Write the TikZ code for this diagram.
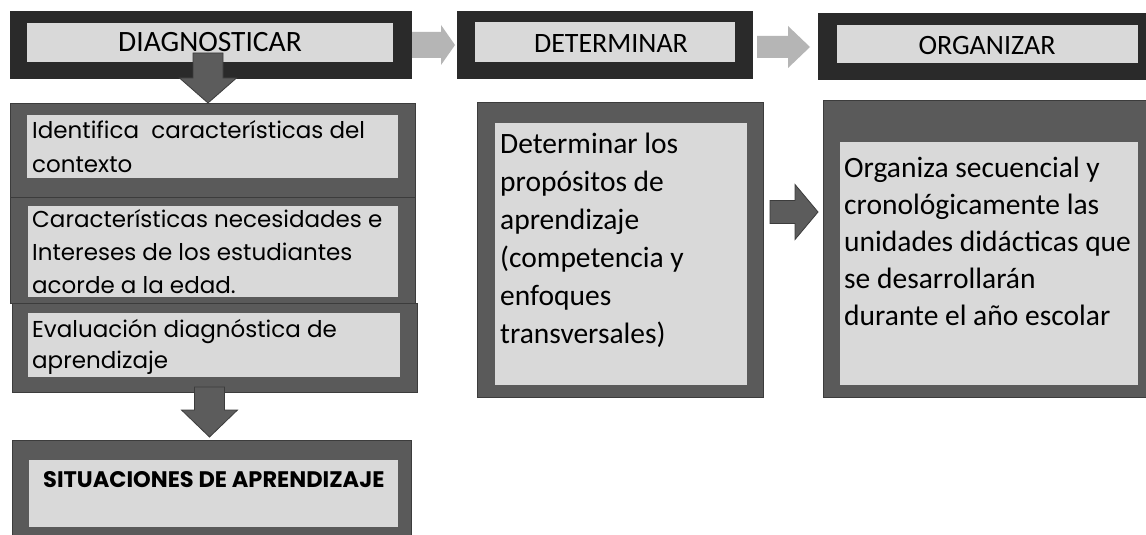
\documentclass[tikz,border=0pt]{standalone}
\usepackage{fontspec}
\usetikzlibrary{calc}
\newfontfamily\calib{Carlito}
\newfontfamily\gothic{Poppins}
\definecolor{topdark}{HTML}{2A2A2A}
\definecolor{lowdark}{HTML}{5A5A5A}
\definecolor{lowedge}{HTML}{3C3C3C}
\definecolor{lightfill}{HTML}{D9D9D9}
\definecolor{garrow}{HTML}{B5B5B5}
\definecolor{darrow}{HTML}{5C5C5C}
\newcommand\mkbox[6]{\node[#6, minimum width={(#4-#2)*1pt}, minimum height={(#5-#3)*1pt}] (#1) at ({(#2+#4)/2},{(#3+#5)/2}) {};}
\tikzset{
  topouter/.style={fill=topdark, draw=none, inner sep=0, outer sep=0},
  lowouter/.style={fill=lowdark, draw=lowedge, line width=1pt, inner sep=0, outer sep=0},
  innerbox/.style={fill=lightfill, draw=none, inner sep=0, outer sep=0},
  gtext/.style={font={\gothic\fontsize{23}{33}\selectfont}, align=left, anchor=base west, inner sep=0},
  gbold/.style={font={\gothic\bfseries\fontsize{22.5}{24}\selectfont}, anchor=base west, inner sep=0},
  ctext/.style={font={\calib\fontsize{29.5}{37.5}\selectfont}, align=left, anchor=base west, inner sep=0},
  ttext/.style={font={\calib\fontsize{28}{30}\selectfont}, anchor=base, inner sep=0},
  lightarrow/.style={fill=garrow, draw=none},
  darkarrow/.style={fill=darrow, draw=lowedge, line width=0.8pt},
}
\begin{document}
\begin{tikzpicture}[x=1pt,y=-1pt]
\useasboundingbox[fill=white] (0,0) rectangle (1146,535);
% top row
\mkbox{diagO}{10}{11}{412}{79}{topouter}
\mkbox{diagI}{27}{23}{393}{62}{innerbox}
\mkbox{detO}{457}{11}{753}{79}{topouter}
\mkbox{detI}{475}{22}{735}{62}{innerbox}
\mkbox{orgO}{818}{13}{1150}{80}{topouter}
\mkbox{orgI}{837}{25}{1138}{63}{innerbox}
% left column
\mkbox{b1O}{10}{103}{415}{197}{lowouter}
\mkbox{b1I}{27}{115}{398}{178}{innerbox}
\mkbox{b2O}{10}{197}{415}{303}{lowouter}
\mkbox{b2I}{28}{206}{398}{297}{innerbox}
\mkbox{b3O}{12}{303}{417}{392}{lowouter}
\mkbox{b3I}{28}{313}{400}{377}{innerbox}
% multi-line nodes: base anchor is the last line's baseline
\node[gtext, font={\gothic\fontsize{23}{34}\selectfont}] (b1T) at (32,172) {Identifica\ \ características del\\contexto};
\node[gtext] (b2T) at (32,293) {Características necesidades e\\Intereses de los estudiantes\\acorde a la edad.};
\node[gtext, font={\gothic\fontsize{23}{30.5}\selectfont}] (b3T) at (32,368) {Evaluación diagnóstica de\\aprendizaje};
\mkbox{sitO}{12}{440}{411}{540}{lowouter}
\mkbox{sitI}{29}{460}{398}{527}{innerbox}
\node[gbold] (sitT) at (43,487) {SITUACIONES DE APRENDIZAJE};
% middle and right
\mkbox{midO}{477}{102}{763}{397}{lowouter}
\mkbox{midI}{495}{123}{747}{385}{innerbox}
\node[ctext, font={\calib\fontsize{29.5}{38}\selectfont}] (midT) at (500,343) {Determinar los\\propósitos de\\aprendizaje\\(competencia y\\enfoques\\transversales)};
\mkbox{rgtO}{823}{100}{1150}{397}{lowouter}
\mkbox{rgtI}{840}{142}{1138}{385}{innerbox}
\node[ctext, font={\calib\fontsize{29.5}{37}\selectfont}] (rgtT) at (844,325) {Organiza secuencial y\\cronológicamente las\\unidades didácticas que\\se desarrollarán\\durante el año escolar};
% arrows
\fill[lightarrow] let \p1=(diagO.east), \p2=(detO.west) in
  (\x1,\y1+13pt) -- (\x2-16pt,\y1+13pt) -- (\x2-16pt,\y1+20pt) -- (\x2-2pt,\y1) --
  (\x2-16pt,\y1-20pt) -- (\x2-16pt,\y1-13pt) -- (\x1,\y1-13pt) -- cycle;
\fill[lightarrow] let \p1=(detO.east), \p2=(orgO.west) in
  (\x1+4pt,\y1+11pt-2pt) -- (\x2-30pt,\y1+11pt-2pt) -- (\x2-30pt,\y1+21pt-2pt) -- (\x2-8pt,\y1-2pt) --
  (\x2-30pt,\y1-21pt-2pt) -- (\x2-30pt,\y1-11pt-2pt) -- (\x1+4pt,\y1-11pt-2pt) -- cycle;
\filldraw[darkarrow] let \p1=(midO.east), \p2=(rgtO.west) in
  (\x1+7pt,\y1+37.5pt+11.5pt) -- (\x2-28pt,\y1+37.5pt+11.5pt) -- (\x2-28pt,\y1+37.5pt+27.5pt) -- (\x2-5pt,\y1+37.5pt) --
  (\x2-28pt,\y1+37.5pt-27.5pt) -- (\x2-28pt,\y1+37.5pt-11.5pt) -- (\x1+7pt,\y1+37.5pt-11.5pt) -- cycle;
\filldraw[darkarrow] let \p1=(diagI.south), \p2=(b1O.north) in
  (\x1-2pt-15pt,\y1+9pt) -- (\x1-2pt+15pt,\y1+9pt) -- (\x1-2pt+15pt,\y2+25pt) -- (\x1-2pt+28.5pt,\y2+25pt) -- (\x1-2pt,\y2) --
  (\x1-2pt-28.5pt,\y2+25pt) -- (\x1-2pt-15pt,\y2+25pt) -- cycle;
\filldraw[darkarrow] let \p1=(b3O.south), \p2=(sitO.north) in
  (\x2-2pt-15pt,\y1+5pt) -- (\x2-2pt+15pt,\y1+5pt) -- (\x2-2pt+15pt,\y2+30pt) -- (\x2-2pt+28pt,\y2+30pt) -- (\x2-2pt,\y2+3pt) --
  (\x2-2pt-28pt,\y2+30pt) -- (\x2-2pt-15pt,\y2+30pt) -- cycle;
% titles on top
\node[ttext, font={\calib\fontsize{29.5}{30}\selectfont}] (diagT) at (210,52) {DIAGNOSTICAR};
\node[ttext] (detT) at (611,53) {DETERMINAR};
\node[ttext] (orgT) at (987,55) {ORGANIZAR};
\end{tikzpicture}
\end{document}
